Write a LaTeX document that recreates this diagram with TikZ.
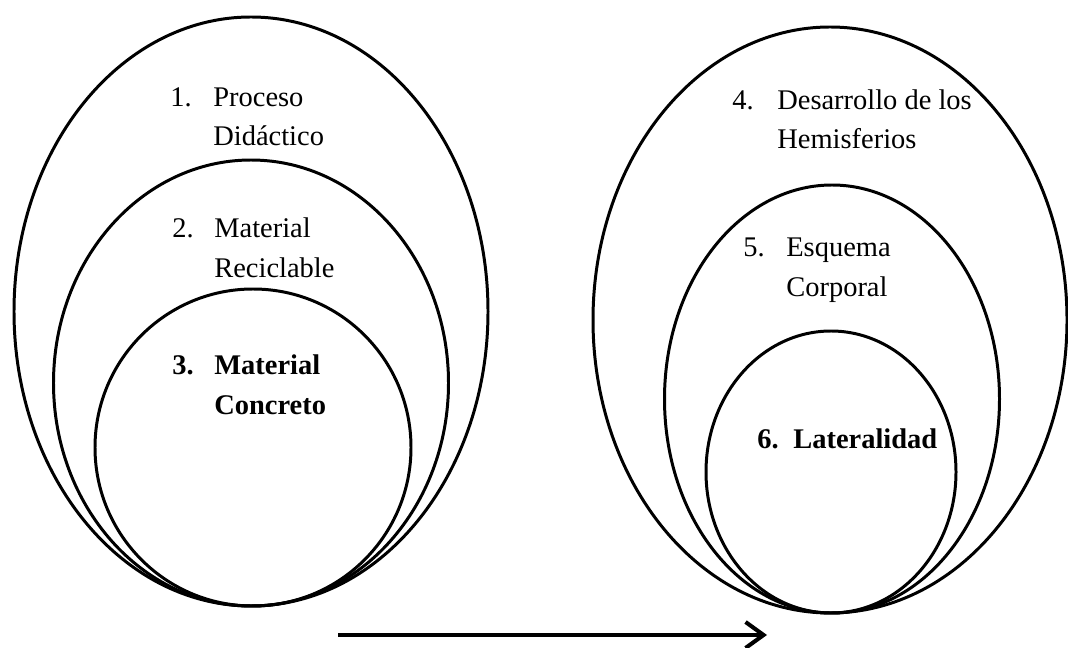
\documentclass[tikz,border=0pt]{standalone}
\usepackage{fontspec}
\setmainfont{Liberation Serif}
\usetikzlibrary{shapes.geometric,arrows.meta,positioning}

\newlength{\unitpx}
\setlength{\unitpx}{0.02cm}
\newcommand{\hangitem}[3]{\begin{tabular}[t]{@{}p{#1}@{}l@{}}#2&#3\end{tabular}}

\tikzset{
  ring/.style={ellipse, draw, line width=1.7pt, inner sep=0pt},
  itemtext/.style={anchor=base west, inner sep=0pt, font=\fontsize{16.2}{22.2}\selectfont},
  flow/.style={line width=2.3pt, -{Straight Barb[length=0.36cm, width=0.52cm, line width=2.3pt]}},
}

\begin{document}
\begin{tikzpicture}[x=0.02cm, y=-0.02cm]
  \useasboundingbox (0,0) rectangle (1068,648);

  % Define nodes
  \node[ring, minimum width=474\unitpx, minimum height=589\unitpx] (outerL) at (251,311.5) {};
  \node[ring, minimum width=395\unitpx, minimum height=446\unitpx] (midL) at (251,383) {};
  \node[ring, minimum width=316\unitpx, minimum height=317\unitpx] (innerL) at (253,447.5) {};

  \node[ring, minimum width=474\unitpx, minimum height=586\unitpx] (outerR) at (830,320) {};
  \node[ring, minimum width=335\unitpx, minimum height=428\unitpx] (midR) at (832,399) {};
  \node[ring, minimum width=250\unitpx, minimum height=282\unitpx] (innerR) at (831,472) {};

  \node[itemtext] (proceso) at (170,107) {\hangitem{0.86cm}{1.}{Proceso\\&Didáctico}};
  \node[itemtext] (reciclable) at (172,238) {\hangitem{0.84cm}{2.}{Material\\&Reciclable}};
  \node[itemtext, font=\fontsize{16.2}{22.2}\selectfont\bfseries] (concreto) at (172,375) {\hangitem{0.84cm}{3.}{Material\\&Concreto}};
  \node[itemtext] (hemisferios) at (732,110) {\hangitem{0.9cm}{4.}{Desarrollo de los\\&Hemisferios}};
  \node[itemtext] (esquema) at (743,257) {\hangitem{0.86cm}{5.}{Esquema\\&Corporal}};
  \node[itemtext, font=\fontsize{16.2}{22.2}\selectfont\bfseries] (lateralidad) at (757,448) {\hangitem{0.72cm}{6.}{Lateralidad}};

  % Connect the groups
  \coordinate (flowS) at (338,635);
  \coordinate (flowE) at (767,635);
  \draw[flow] (flowS) -- (flowE);

\end{tikzpicture}
\end{document}
